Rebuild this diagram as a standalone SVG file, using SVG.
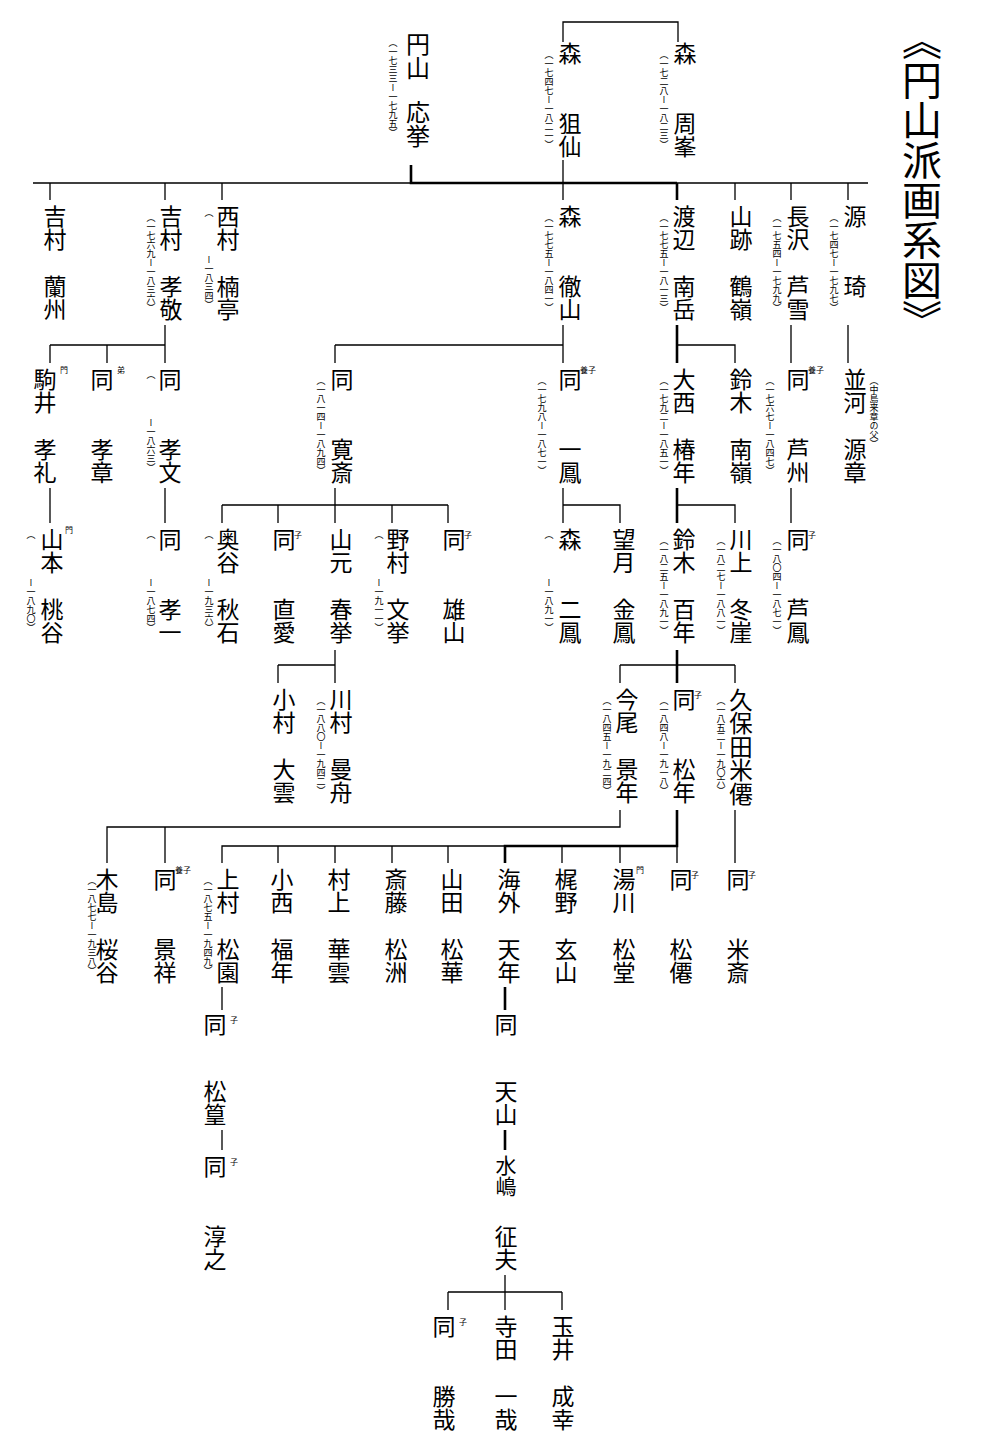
<svg xmlns="http://www.w3.org/2000/svg" width="1000" height="1452" viewBox="0 0 1000 1452">
<style>
text{font-family:"Noto Sans CJK JP","Noto Sans",sans-serif;fill:#000}
.n{font-size:23px;writing-mode:vertical-rl}
.d{font-size:9px;writing-mode:vertical-rl}
.s{font-size:8px}
.t{font-size:40px;writing-mode:vertical-rl}
.c path{fill:none;stroke:#000;stroke-width:1.3}
.c .k{stroke-width:2.6}
</style>
<rect width="1000" height="1452" fill="#fff"/>
<g class="c" id="connectors">
<path d="M563,42V22H678V42"/>
<path class="k" d="M411,165V183H677"/>
<path d="M33,183H868M563,160V200M50,183V200M165,183V200M222,183V200M735,183V200M791,183V200M848,183V200"/>
<path class="k" d="M677,183V200"/>
<path d="M165,325V363M50,345H165M50,345V363M107,345V363"/>
<path d="M563,325V363M335,345H563M335,345V363"/>
<path class="k" d="M677,325V363"/>
<path d="M677,345H735V363M791,325V363M848,325V363"/>
<path d="M50,488V523M165,488V523M335,488V523M222,505H448M222,505V523M278,505V523M392,505V523M448,505V523"/>
<path d="M563,488V523M563,505H620V523"/>
<path class="k" d="M677,488V523"/>
<path d="M677,505H735V523M791,488V523"/>
<path d="M335,650V683M278,665H335M278,665V683"/>
<path class="k" d="M677,650V683"/>
<path d="M620,665H735M620,665V683M735,665V683"/>
<path d="M620,810V827H107V863M165,827V863"/>
<path class="k" d="M677,810V846H505V863"/>
<path d="M505,846H222V863M278,846V863M335,846V863M392,846V863M448,846V863M562,846V863M620,846V863M677,846V863M735,810V863"/>
<path d="M222,987V1010M222,1130V1150"/>
<path class="k" d="M505,987V1010M505,1130V1150"/>
<path d="M505,1275V1310M448,1292H562M448,1292V1310M562,1292V1310"/>
</g>
<g id="title"><text class="t" x="922" y="20">《円山派画系図》</text></g>
<g id="okyo"><text class="n" x="418" y="32" style="font-size:24px">円山</text><text class="n" x="418" y="100" style="font-size:24px">応挙</text><text class="d" x="393" y="38">（一七三三ー一七九五）</text></g>
<g id="sosen"><text class="n" x="570" y="42">森</text><text class="n" x="570" y="112">狙仙</text><text class="d" x="549" y="50">（一七四七ー一八二一）</text></g>
<g id="shuho"><text class="n" x="685" y="42">森</text><text class="n" x="685" y="112">周峯</text><text class="d" x="664" y="50">（一七二八ー一八二三）</text></g>
<g id="ranshu"><text class="n" x="55" y="205">吉村</text><text class="n" x="55" y="275">蘭州</text></g>
<g id="kokei"><text class="n" x="171" y="205">吉村</text><text class="n" x="171" y="275">孝敬</text><text class="d" x="151" y="213">（一七六九ー一八三六）</text></g>
<g id="nantei"><text class="n" x="228" y="205">西村</text><text class="n" x="228" y="275">楠亭</text><text class="d" x="209" y="208">（</text><text class="d" x="209" y="255">ー一八三四）</text></g>
<g id="tetsuzan"><text class="n" x="570" y="205">森</text><text class="n" x="570" y="275">徹山</text><text class="d" x="549" y="213">（一七七五ー一八四一）</text></g>
<g id="nangaku"><text class="n" x="684" y="205">渡辺</text><text class="n" x="684" y="275">南岳</text><text class="d" x="664" y="213">（一七七五ー一八一三）</text></g>
<g id="kakurei"><text class="n" x="741" y="205">山跡</text><text class="n" x="741" y="275">鶴嶺</text></g>
<g id="rosetsu"><text class="n" x="798" y="205">長沢</text><text class="n" x="798" y="275">芦雪</text><text class="d" x="777" y="213">（一七五四ー一七九九）</text></g>
<g id="genki"><text class="n" x="855" y="205">源</text><text class="n" x="855" y="275">琦</text><text class="d" x="834" y="213">（一七四七ー一七九七）</text></g>
<g id="korei"><text class="n" x="45" y="368">駒井</text><text class="n" x="45" y="438">孝礼</text><text class="s" x="60" y="373">門</text></g>
<g id="kosho"><text class="n" x="102" y="368">同</text><text class="n" x="102" y="438">孝章</text><text class="s" x="117" y="373">弟</text></g>
<g id="kobun"><text class="n" x="170" y="368">同</text><text class="n" x="170" y="438">孝文</text><text class="d" x="151" y="370">（</text><text class="d" x="151" y="418">ー一八六三）</text></g>
<g id="kansai"><text class="n" x="342" y="368">同</text><text class="n" x="342" y="438">寛斎</text><text class="d" x="321" y="376">（一八一四ー一八九四）</text></g>
<g id="ippo"><text class="n" x="570" y="368">同</text><text class="n" x="570" y="438">一鳳</text><text class="s" x="580" y="373">養子</text><text class="d" x="542" y="376">（一七九八ー一八七一）</text></g>
<g id="chinnen"><text class="n" x="684" y="368">大西</text><text class="n" x="684" y="438">椿年</text><text class="d" x="664" y="376">（一七九二ー一八五一）</text></g>
<g id="nanrei"><text class="n" x="741" y="368">鈴木</text><text class="n" x="741" y="438">南嶺</text></g>
<g id="roshu"><text class="n" x="798" y="368">同</text><text class="n" x="798" y="438">芦州</text><text class="s" x="808" y="373">養子</text><text class="d" x="770" y="376">（一七六七ー一八四七）</text></g>
<g id="gensho"><text class="n" x="855" y="368">並河</text><text class="n" x="855" y="438">源章</text><text class="d" x="874" y="376">（中島来章の父）</text></g>
<g id="toukoku"><text class="n" x="52" y="528">山本</text><text class="n" x="52" y="598">桃谷</text><text class="s" x="65" y="533">門</text><text class="d" x="31" y="530">（</text><text class="d" x="31" y="578">ー一八九〇）</text></g>
<g id="koichi"><text class="n" x="170" y="528">同</text><text class="n" x="170" y="598">孝一</text><text class="d" x="151" y="530">（</text><text class="d" x="151" y="578">ー一八七四）</text></g>
<g id="shuseki"><text class="n" x="228" y="528">奥谷</text><text class="n" x="228" y="598">秋石</text><text class="d" x="209" y="530">（</text><text class="d" x="209" y="578">ー一九三六）</text></g>
<g id="naoyoshi"><text class="n" x="284" y="528">同</text><text class="n" x="284" y="598">直愛</text><text class="s" x="294" y="538">子</text></g>
<g id="shunkyo"><text class="n" x="341" y="528">山元</text><text class="n" x="341" y="598">春挙</text></g>
<g id="bunkyo"><text class="n" x="398" y="528">野村</text><text class="n" x="398" y="598">文挙</text><text class="d" x="379" y="530">（</text><text class="d" x="379" y="578">ー一九一一）</text></g>
<g id="yuzan"><text class="n" x="454" y="528">同</text><text class="n" x="454" y="598">雄山</text><text class="s" x="464" y="538">子</text></g>
<g id="niho"><text class="n" x="570" y="528">森</text><text class="n" x="570" y="598">二鳳</text><text class="d" x="549" y="530">（</text><text class="d" x="549" y="578">ー一八九一）</text></g>
<g id="kinpo"><text class="n" x="624" y="528">望月</text><text class="n" x="624" y="598">金鳳</text></g>
<g id="hyakunen"><text class="n" x="684" y="528">鈴木</text><text class="n" x="684" y="598">百年</text><text class="d" x="664" y="536">（一八二五ー一八九一）</text></g>
<g id="togai"><text class="n" x="741" y="528">川上</text><text class="n" x="741" y="598">冬崖</text><text class="d" x="721" y="536">（一八二七ー一八八一）</text></g>
<g id="roho"><text class="n" x="798" y="528">同</text><text class="n" x="798" y="598">芦鳳</text><text class="s" x="808" y="538">子</text><text class="d" x="777" y="536">（一八〇四ー一八七一）</text></g>
<g id="daiun"><text class="n" x="284" y="688">小村</text><text class="n" x="284" y="758">大雲</text></g>
<g id="manshu"><text class="n" x="341" y="688">川村</text><text class="n" x="341" y="758">曼舟</text><text class="d" x="321" y="696">（一八八〇ー一九四二）</text></g>
<g id="keinen"><text class="n" x="627" y="688">今尾</text><text class="n" x="627" y="758">景年</text><text class="d" x="607" y="696">（一八四五ー一九二四）</text></g>
<g id="shonen"><text class="n" x="684" y="688">同</text><text class="n" x="684" y="758">松年</text><text class="s" x="694" y="698">子</text><text class="d" x="664" y="696">（一八四八ー一九一八）</text></g>
<g id="beisen"><text class="n" x="741" y="688" style="font-size:23.5px">久保田米僊</text><text class="d" x="721" y="696">（一八五二ー一九〇六）</text></g>
<g id="okoku"><text class="n" x="107" y="868">木島</text><text class="n" x="107" y="938">桜谷</text><text class="d" x="92" y="876">（一八七七ー一九三八）</text></g>
<g id="keisho"><text class="n" x="165" y="868">同</text><text class="n" x="165" y="938">景祥</text><text class="s" x="175" y="873">養子</text></g>
<g id="shoen"><text class="n" x="228" y="868">上村</text><text class="n" x="228" y="938">松園</text><text class="d" x="208" y="876">（一八七五ー一九四九）</text></g>
<g id="fukunen"><text class="n" x="282" y="868">小西</text><text class="n" x="282" y="938">福年</text></g>
<g id="kaun"><text class="n" x="339" y="868">村上</text><text class="n" x="339" y="938">華雲</text></g>
<g id="shoshu"><text class="n" x="396" y="868">斎藤</text><text class="n" x="396" y="938">松洲</text></g>
<g id="shoka"><text class="n" x="452" y="868">山田</text><text class="n" x="452" y="938">松華</text></g>
<g id="tennen"><text class="n" x="509" y="868">海外</text><text class="n" x="509" y="938">天年</text></g>
<g id="genzan"><text class="n" x="566" y="868">梶野</text><text class="n" x="566" y="938">玄山</text></g>
<g id="shodo"><text class="n" x="624" y="868">湯川</text><text class="n" x="624" y="938">松堂</text><text class="s" x="636" y="873">門</text></g>
<g id="shosen"><text class="n" x="681" y="868">同</text><text class="n" x="681" y="938">松僊</text><text class="s" x="691" y="878">子</text></g>
<g id="beisai"><text class="n" x="738" y="868">同</text><text class="n" x="738" y="938">米斎</text><text class="s" x="748" y="878">子</text></g>
<g id="shoko"><text class="n" x="215" y="1013">同</text><text class="n" x="215" y="1080">松篁</text><text class="s" x="230" y="1023">子</text></g>
<g id="atsushi"><text class="n" x="215" y="1155">同</text><text class="n" x="215" y="1225">淳之</text><text class="s" x="230" y="1165">子</text></g>
<g id="tenzan"><text class="n" x="506" y="1013">同</text><text class="n" x="506" y="1080">天山</text></g>
<g id="yukio"><text class="n" x="506" y="1155" style="font-size:21px">水嶋</text><text class="n" x="506" y="1225">征夫</text></g>
<g id="katsuya"><text class="n" x="444" y="1315">同</text><text class="n" x="444" y="1385">勝哉</text><text class="s" x="459" y="1325">子</text></g>
<g id="kazuya"><text class="n" x="506" y="1315">寺田</text><text class="n" x="506" y="1385">一哉</text></g>
<g id="seiko"><text class="n" x="563" y="1315">玉井</text><text class="n" x="563" y="1385">成幸</text></g>
</svg>
